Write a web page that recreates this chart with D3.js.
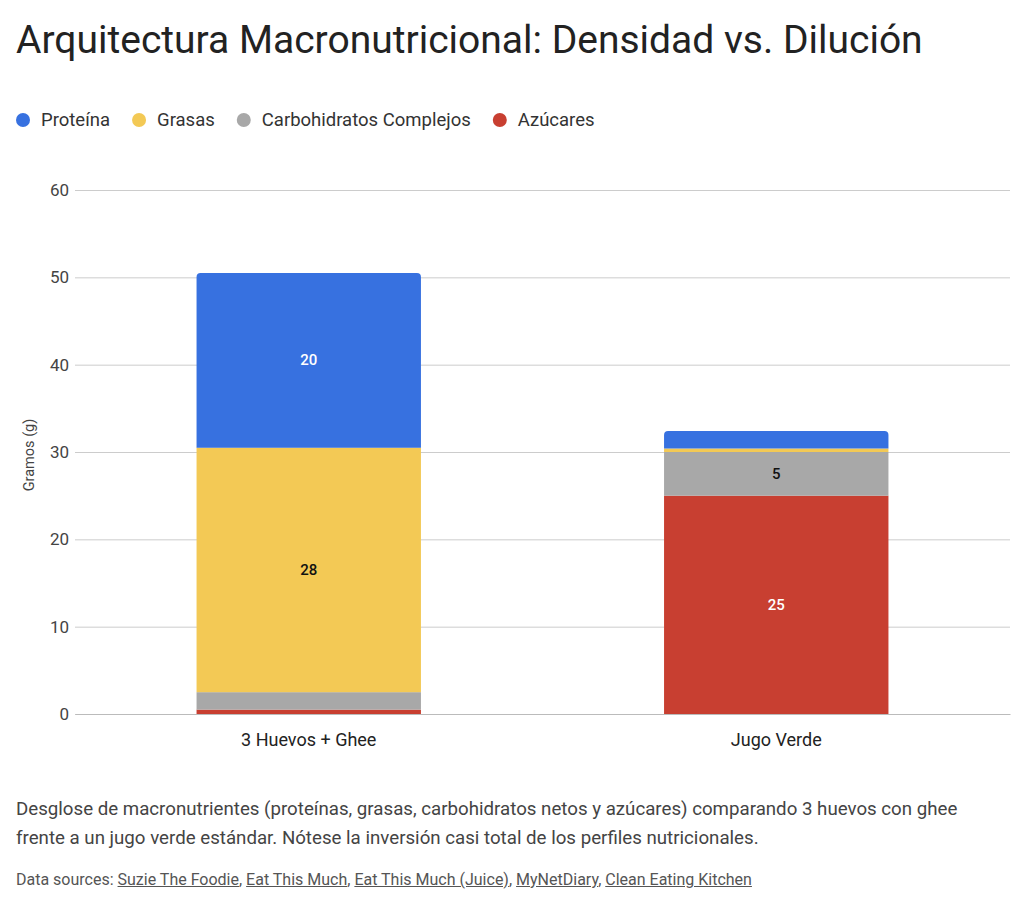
<!DOCTYPE html>
<html>
<head>
<meta charset="utf-8">
<script src="https://cdn.jsdelivr.net/npm/d3@7"></script>
<style>
  body { margin: 0; background: #fff; font-family: Roboto, "Noto Sans", sans-serif; }
  .desc { position: absolute; left: 16px; top: 795px; width: 962px; font-size: 18.7px; line-height: 29px; color: #444; }
  .sources { position: absolute; left: 16px; top: 870px; font-size: 16px; color: #555; }
  .sources a { color: #555; text-decoration: underline; }
</style>
</head>
<body>
<div id="chart"></div>
<div class="desc">Desglose de macronutrientes (proteínas, grasas, carbohidratos netos y azúcares) comparando 3 huevos con ghee frente a un jugo verde estándar. Nótese la inversión casi total de los perfiles nutricionales.</div>
<div class="sources">Data sources: <a>Suzie The Foodie</a>, <a>Eat This Much</a>, <a>Eat This Much (Juice)</a>, <a>MyNetDiary</a>, <a>Clean Eating Kitchen</a></div>
<script>
var categories = ["3 Huevos + Ghee", "Jugo Verde"];
var seriesNames = ["Azúcares", "Carbohidratos Complejos", "Grasas", "Proteína"];
var azucares = [0.5, 25];
var carbohidratos = [2, 5];
var grasas = [28, 0.4];
var proteina = [20, 2];
var yTicks = [0, 10, 20, 30, 40, 50, 60];
var legendOrder = ["Proteína", "Grasas", "Carbohidratos Complejos", "Azúcares"];

var colors = {
    "Proteína": "#3771e0",
    "Grasas": "#f3c955",
    "Carbohidratos Complejos": "#a8a8a8",
    "Azúcares": "#c83f31"
};
var labelColors = {
    "Proteína": "#fff",
    "Grasas": "#111",
    "Carbohidratos Complejos": "#111",
    "Azúcares": "#fff"
};

var W = 1024, H = 909;
var margin = { left: 75, right: 14, top: 190, bottom: 195 };

var rows = categories.map(function (c, i) {
    return {
        cat: c,
        "Azúcares": azucares[i],
        "Carbohidratos Complejos": carbohidratos[i],
        "Grasas": grasas[i],
        "Proteína": proteina[i]
    };
});
var stacked = d3.stack().keys(seriesNames)(rows);

var svg = d3.select("#chart").append("svg")
    .attr("width", W).attr("height", H)
    .style("position", "absolute").style("left", 0).style("top", 0);

var x = d3.scaleBand()
    .domain(categories)
    .range([margin.left, W - margin.right])
    .paddingInner(0.52)
    .paddingOuter(0.26);

var y = d3.scaleLinear()
    .domain([0, 60])
    .range([H - margin.bottom, margin.top]);

// title
svg.append("text")
    .attr("x", 16).attr("y", 53)
    .attr("font-size", 39).attr("fill", "#222")
    .text("Arquitectura Macronutricional: Densidad vs. Dilución");

// legend
var lx = 23;
var legend = svg.append("g");
legendOrder.forEach(function (name) {
    legend.append("circle")
        .attr("cx", lx).attr("cy", 120).attr("r", 7)
        .attr("fill", colors[name]);
    var t = legend.append("text")
        .attr("x", lx + 18).attr("y", 126)
        .attr("font-size", 18.5).attr("fill", "#333")
        .text(name);
    lx += 18 + t.node().getComputedTextLength() + 29;
});

// grid + y axis
var yAxis = d3.axisLeft(y).tickValues(yTicks)
    .tickSize(-(W - margin.left - margin.right)).tickPadding(6);
var gy = svg.append("g")
    .attr("transform", "translate(" + margin.left + ",0)")
    .call(yAxis);
gy.select(".domain").remove();
gy.selectAll(".tick line").attr("stroke", "#ccc");
gy.selectAll(".tick text")
    .attr("font-size", 17).attr("fill", "#444")
    .attr("font-family", "Roboto, sans-serif");

svg.append("text")
    .attr("transform", "translate(34," + (y(30) + 3) + ") rotate(-90)")
    .attr("text-anchor", "middle")
    .attr("font-size", 14.5).attr("fill", "#444")
    .text("Gramos (g)");

// bars
var topKey = {};
rows.forEach(function (r) {
    var last = null;
    seriesNames.forEach(function (k) { if (r[k] > 0) last = k; });
    topKey[r.cat] = last;
});

var r0 = 4;
stacked.forEach(function (layer) {
    var key = layer.key;
    layer.forEach(function (d) {
        var cat = d.data.cat;
        var x0 = x(cat), bw = x.bandwidth();
        var yt = y(d[1]), yb = y(d[0]);
        if (topKey[cat] === key) {
            var p = d3.path();
            p.moveTo(x0, yb);
            p.lineTo(x0, yt + r0);
            p.arcTo(x0, yt, x0 + r0, yt, r0);
            p.lineTo(x0 + bw - r0, yt);
            p.arcTo(x0 + bw, yt, x0 + bw, yt + r0, r0);
            p.lineTo(x0 + bw, yb);
            p.closePath();
            svg.append("path").attr("d", p.toString()).attr("fill", colors[key]);
        } else {
            svg.append("rect")
                .attr("x", x0).attr("y", yt)
                .attr("width", bw).attr("height", yb - yt)
                .attr("fill", colors[key]);
        }
        if (d[1] - d[0] >= 4) {
            svg.append("text")
                .attr("x", x0 + bw / 2).attr("y", (yt + yb) / 2 + 5)
                .attr("text-anchor", "middle")
                .attr("font-size", 15).attr("font-weight", 500)
                .attr("fill", labelColors[key])
                .text(d3.format("d")(d[1] - d[0]));
        }
    });
});

// baseline + x axis
var gx = svg.append("g")
    .attr("transform", "translate(0," + y(0) + ")")
    .call(d3.axisBottom(x).tickSize(0).tickPadding(19));
gx.select(".domain").attr("stroke", "#bbb");
gx.selectAll(".tick text")
    .attr("font-size", 18).attr("fill", "#222")
    .attr("font-family", "Roboto, sans-serif");
</script>
</body>
</html>
